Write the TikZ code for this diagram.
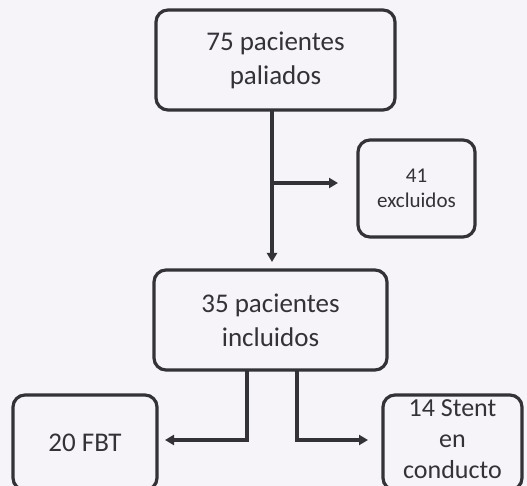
\documentclass[tikz,border=0pt]{standalone}
\usepackage{fontspec}
\setmainfont{Carlito}
\usetikzlibrary{arrows.meta}
\definecolor{paper}{RGB}{246,243,249}
\definecolor{ink}{RGB}{50,50,55}
\tikzset{
  box/.style={draw=ink, line width=3.2pt, rounded corners=12pt, align=center,
    text=ink, inner sep=0pt, font=\fontsize{27}{34}\selectfont},
  smallbox/.style={box, font=\fontsize{21}{25}\selectfont},
  btext/.style={text=ink, align=center, inner sep=0pt, font=\fontsize{26}{31}\selectfont},
  conn/.style={draw=ink, line width=3.2pt, -{Triangle[length=9pt,width=10pt]}},
}
\begin{document}
\begin{tikzpicture}[x=1pt,y=-1pt]
\fill[paper] (0,0) rectangle (527,486);
\useasboundingbox (0,0) rectangle (527,486);
\clip (0,0) rectangle (527,486);
\node[box, minimum width=239pt, minimum height=100pt] (top) at (275.5,60) {75 pacientes\\paliados};
\node[smallbox, minimum width=117pt, minimum height=97pt] (excl) at (416.5,188.5) {41\\excluidos};
\node[box, minimum width=233pt, minimum height=100pt] (inc) at (270.5,320) {35 pacientes\\incluidos};
\node[box, minimum width=144pt, minimum height=95pt] (fbt) at (85,442.5) {20 FBT};
\node[box, minimum width=139pt, minimum height=95pt] (stent) at (452.5,442.5) {};
\node[btext] (stenttext) at (452.5,439) {14 Stent\\en\\conducto};
\coordinate (v0) at (272,110);
\coordinate (v1) at (272,262);
\coordinate (j1) at (272,183);
\coordinate (e1) at (338,183);
\draw[conn] (v0) -- (v1);
\draw[conn] (j1) -- (e1);
\coordinate (l0) at (247,370);
\coordinate (l1) at (247,440);
\coordinate (l2) at (165,440);
\coordinate (r0) at (297,370);
\coordinate (r1) at (297,440);
\coordinate (r2) at (368,440);
\draw[conn] (l0) -- (l1) -- (l2);
\draw[conn] (r0) -- (r1) -- (r2);
\end{tikzpicture}
\end{document}
